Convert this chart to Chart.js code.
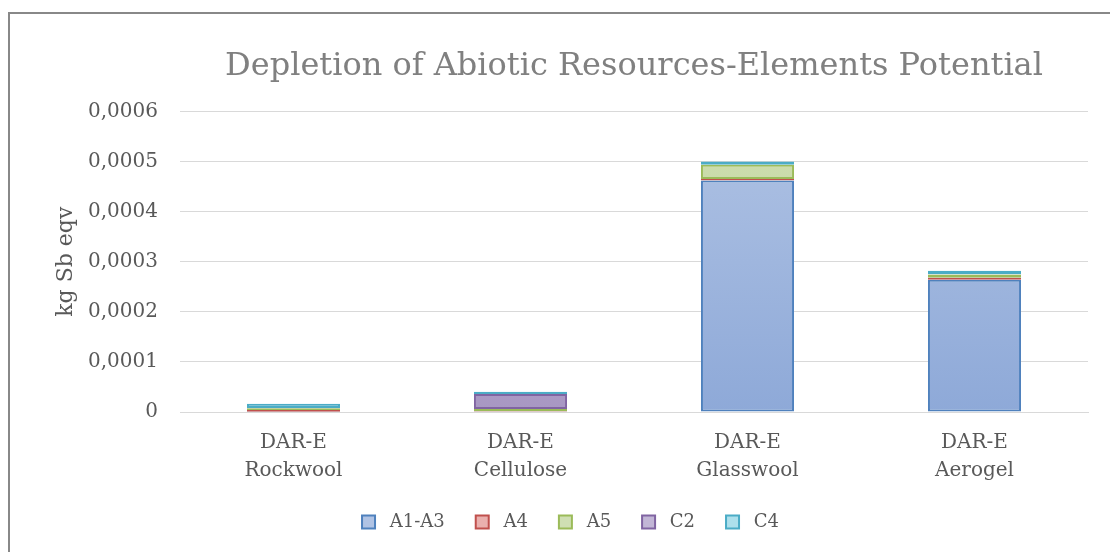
<!DOCTYPE html>
<html>
<head>
<meta charset="utf-8">
<script src="https://cdn.jsdelivr.net/npm/chart.js@4.4.0/dist/chart.umd.min.js"></script>
<style>
  html, body { margin: 0; padding: 0; background: #fff; }
  #wrap { position: relative; width: 1110px; height: 552px; overflow: hidden; }
  #frame { position: absolute; left: 8px; top: 12px; width: 1200px; height: 600px;
           border-top: 2px solid #888; border-left: 2px solid #888; }
  #chart { position: absolute; left: 0; top: 0; }
</style>
</head>
<body>
<div id="wrap">
  <div id="frame"></div>
  <canvas id="chart" width="1110" height="552"></canvas>
</div>
<script>
// categorias (dos lineas por etiqueta)
var categories = [['DAR-E', 'Rockwool'], ['DAR-E', 'Cellulose'], ['DAR-E', 'Glasswool'], ['DAR-E', 'Aerogel']];
var seriesNames = ['A1-A3', 'A4', 'A5', 'C2', 'C4'];

// valores (kg Sb eqv)
var valA1A3 = [0.0000005, 0.0000005, 0.000462, 0.000264];
var valA4   = [0.0000035, 0.000001, 0.0000033, 0.000004];
var valA5   = [0.0000035, 0.0000045, 0.000028, 0.0000066];
var valC2   = [0.0000005, 0.00003, 0.0000003, 0.0000005];
var valC4   = [0.0000085, 0.0000045, 0.0000066, 0.0000066];

var yTicksMax = 0.0006;
var yStep = 0.0001;

var fuente = "'DejaVu Serif', serif";

// colores: borde, relleno arriba, relleno abajo
var colores = [
  ['#4f81bd', '#b0c3e4', '#8ea9d8'],
  ['#c0504d', '#eab0ae', '#dc9896'],
  ['#9bbb59', '#cfdfb3', '#b8cf8c'],
  ['#8064a2', '#c2b6d6', '#a897c3'],
  ['#4bacc6', '#ade0ec', '#8ccadb']
];

function degradado(i) {
  return function(ctx) {
    var chart = ctx.chart;
    var area = chart.chartArea;
    if (!area) return colores[i][1];
    var g = chart.ctx.createLinearGradient(0, area.top, 0, area.bottom);
    g.addColorStop(0, colores[i][1]);
    g.addColorStop(1, colores[i][2]);
    return g;
  };
}

var todos = [valA1A3, valA4, valA5, valC2, valC4];
var datasets = [];
for (var i = 0; i < seriesNames.length; i++) {
  datasets.push({
    label: seriesNames[i],
    data: todos[i],
    backgroundColor: degradado(i),
    borderColor: colores[i][0],
    borderWidth: 2,
    borderSkipped: false,
    barPercentage: 0.41,
    categoryPercentage: 1.0
  });
}

new Chart(document.getElementById('chart').getContext('2d'), {
  type: 'bar',
  data: { labels: categories, datasets: datasets },
  options: {
    responsive: false,
    animation: false,
    layout: { padding: { left: 53, right: 22, top: 47, bottom: 11 } },
    plugins: {
      title: {
        display: true,
        fullSize: false,
        text: 'Depletion of Abiotic Resources-Elements Potential',
        color: '#808080',
        font: { family: fuente, size: 32, weight: 'normal' },
        padding: { top: 0, bottom: 26 }
      },
      legend: {
        position: 'bottom',
        labels: {
          color: '#595959',
          font: { family: fuente, size: 18 },
          boxWidth: 13,
          boxHeight: 13,
          padding: 31,
          generateLabels: function(chart) {
            return chart.data.datasets.map(function(ds, i) {
              return {
                text: ' ' + ds.label,
                fillStyle: colores[i][1],
                strokeStyle: colores[i][0],
                lineWidth: 2,
                fontColor: '#595959',
                datasetIndex: i
              };
            });
          }
        }
      },
      tooltip: { enabled: false }
    },
    scales: {
      x: {
        stacked: true,
        afterFit: function(scale) { scale.height = scale.height - 20; },
        grid: { display: false, drawTicks: false },
        border: { display: true, color: '#d9d9d9', width: 1 },
        ticks: { color: '#595959', font: { family: fuente, size: 20, lineHeight: 1.4 }, padding: 17, maxRotation: 0 }
      },
      y: {
        stacked: true,
        min: 0,
        max: yTicksMax,
        afterFit: function(scale) { scale.width = 127; },
        title: {
          display: true,
          text: 'kg Sb eqv',
          color: '#595959',
          font: { family: fuente, size: 22 },
          padding: { top: 0, bottom: 6 }
        },
        grid: { color: '#d9d9d9', drawTicks: false },
        border: { display: false },
        ticks: {
          stepSize: yStep,
          color: '#595959',
          font: { family: fuente, size: 20 },
          padding: 22,
          callback: function(v) {
            if (v === 0) return '0';
            return v.toFixed(4).replace('.', ',');
          }
        }
      }
    }
  }
});
</script>
</body>
</html>
